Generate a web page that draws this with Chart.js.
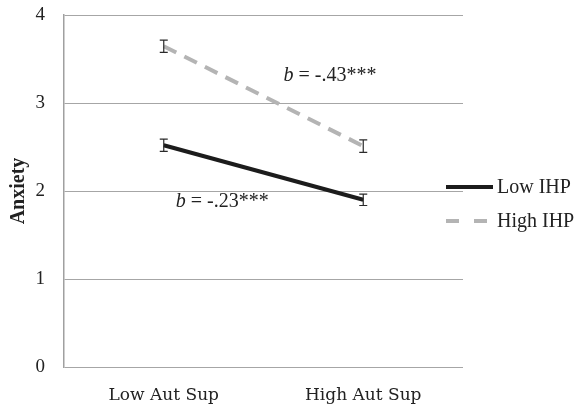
<!DOCTYPE html>
<html>
<head>
<meta charset="utf-8">
<script src="https://cdn.jsdelivr.net/npm/chart.js@4.4.0/dist/chart.umd.min.js"></script>
<style>
  html, body { margin: 0; padding: 0; background: #fff; }
  #wrap { width: 581px; height: 409px; }
</style>
</head>
<body>
<div id="wrap"><canvas id="chart"></canvas></div>
<script>
// Data
const categories = ['Low Aut Sup', 'High Aut Sup'];
const lowIHP = [2.52, 1.90];
const highIHP = [3.645, 2.51];
const lowIHPErr = [0.07, 0.065];
const highIHPErr = [0.07, 0.07];
const yTicks = [0, 1, 2, 3, 4];
const slopeLabels = [
    { text: '= -.43***', x: 0.6, y: 3.31 },
    { text: '= -.23***', x: 0.06, y: 1.875 }
];

const SERIF = '"Liberation Serif", "Times New Roman", serif';

// error bars drawn from the scales
const errorBars = {
    id: 'errorBars',
    afterDatasetsDraw(chart) {
        const { ctx, scales: { x, y } } = chart;
        const sets = [[lowIHP, lowIHPErr], [highIHP, highIHPErr]];
        ctx.save();
        ctx.strokeStyle = '#2a2a2a';
        ctx.lineWidth = 1.2;
        sets.forEach(([vals, errs]) => {
            vals.forEach((v, i) => {
                const px = x.getPixelForValue(i);
                const top = y.getPixelForValue(v + errs[i]);
                const bot = y.getPixelForValue(v - errs[i]);
                ctx.beginPath();
                ctx.moveTo(px, top); ctx.lineTo(px, bot);
                ctx.moveTo(px - 4, top); ctx.lineTo(px + 4, top);
                ctx.moveTo(px - 4, bot); ctx.lineTo(px + 4, bot);
                ctx.stroke();
            });
        });
        ctx.restore();
    }
};

// "b = ..." labels
const slopeText = {
    id: 'slopeText',
    afterDraw(chart) {
        const { ctx, scales: { x, y } } = chart;
        ctx.save();
        ctx.fillStyle = '#222';
        ctx.textBaseline = 'middle';
        slopeLabels.forEach(l => {
            const px = x.getPixelForValue(l.x);
            const py = y.getPixelForValue(l.y);
            ctx.font = 'italic 20px ' + SERIF;
            ctx.fillText('b', px, py);
            const w = ctx.measureText('b ').width;
            ctx.font = '20px ' + SERIF;
            ctx.fillText(l.text, px + w, py);
        });
        ctx.restore();
    }
};

// legend on top of the right end of the gridlines
const sideLegend = {
    id: 'sideLegend',
    afterDraw(chart) {
        const { ctx } = chart;
        const x0 = 446, x1 = 493;
        const rows = [187, 221];
        ctx.save();
        ctx.font = '20px ' + SERIF;
        ctx.textBaseline = 'middle';
        chart.data.datasets.forEach((ds, i) => {
            const yy = rows[i];
            ctx.strokeStyle = ds.borderColor;
            ctx.lineWidth = ds.borderWidth;
            ctx.lineCap = 'butt';
            ctx.beginPath();
            if (ds.borderDash) {
                ctx.moveTo(x0, yy); ctx.lineTo(x0 + 13, yy);
                ctx.moveTo(x0 + 28, yy); ctx.lineTo(x0 + 41, yy);
            } else {
                ctx.moveTo(x0, yy); ctx.lineTo(x1, yy);
            }
            ctx.stroke();
            ctx.fillStyle = '#222';
            ctx.fillText(ds.label, 497, yy + 1);
        });
        ctx.restore();
    }
};

new Chart(document.getElementById('chart'), {
    type: 'line',
    data: {
        labels: categories,
        datasets: [
            {
                label: 'Low IHP',
                data: lowIHP,
                borderColor: '#1c1c1c',
                borderWidth: 4,
                pointRadius: 0,
                fill: false
            },
            {
                label: 'High IHP',
                data: highIHP,
                borderColor: '#b4b4b4',
                borderWidth: 4,
                borderDash: [14, 9],
                pointRadius: 0,
                fill: false
            }
        ]
    },
    options: {
        responsive: true,
        maintainAspectRatio: false,
        animation: false,
        layout: { padding: { left: 0, right: 118, top: 15, bottom: 0 } },
        plugins: {
            legend: { display: false },
            tooltip: { enabled: false }
        },
        scales: {
            x: {
                offset: true,
                grid: { display: false, drawTicks: false },
                border: { display: false },
                ticks: {
                    padding: 18,
                    color: '#222',
                    font: { family: '"DejaVu Serif", serif', size: 17 }
                },
                afterFit: s => { s.height = 42; s.paddingLeft = 0; s.paddingRight = 0; }
            },
            y: {
                min: 0,
                max: 4,
                afterBuildTicks: s => { s.ticks = yTicks.map(v => ({ value: v })); },
                grid: { color: '#a6a6a6', lineWidth: 1, drawTicks: false },
                border: { color: '#a0a0a0', width: 1.5 },
                ticks: {
                    padding: 19,
                    color: '#222',
                    font: { family: SERIF, size: 19 }
                },
                title: {
                    display: true,
                    text: 'Anxiety',
                    color: '#222',
                    padding: { top: 7, bottom: 0 },
                    font: { family: SERIF, size: 20, weight: 'bold' }
                },
                afterFit: s => { s.width = 64; s.paddingTop = 0; s.paddingBottom = 0; }
            }
        }
    },
    plugins: [errorBars, slopeText, sideLegend]
});
</script>
</body>
</html>
